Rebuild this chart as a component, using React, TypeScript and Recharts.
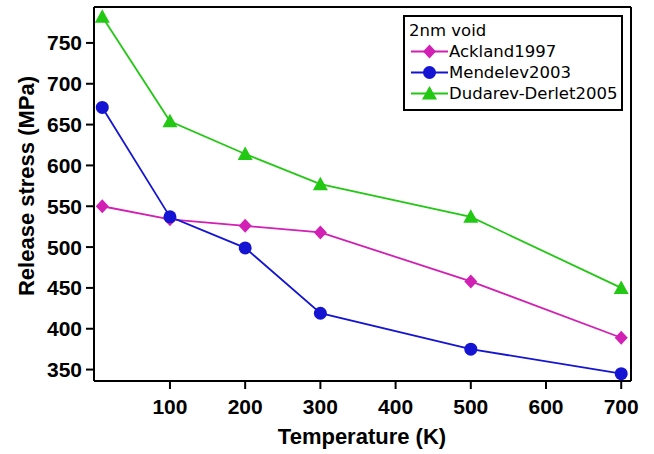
import React from 'react'
import { LineChart, Line, XAxis, YAxis, ReferenceLine } from 'recharts'

// Temperatures (K) and release stress (MPa) per potential
const temperatures = [10, 100, 200, 300, 500, 700]
const ackland1997 = [550, 534, 526, 518, 458, 389]
const mendelev2003 = [671, 537, 499, 419, 375, 345]
const dudarevDerlet2005 = [782, 654, 614, 577, 537, 450]

const xTicks = [100, 200, 300, 400, 500, 600, 700]
const yTicks = [350, 400, 450, 500, 550, 600, 650, 700, 750]

const legendTitle = '2nm void'
const seriesNames = ['Ackland1997', 'Mendelev2003', 'Dudarev-Derlet2005']

const MAGENTA = '#d21fb4'
const BLUE = '#1414d2'
const GREEN = '#22c814'
const FONT = '"Liberation Sans", Arial, sans-serif'

const data = temperatures.map((t, i) => ({
  t,
  ackland: ackland1997[i],
  mendelev: mendelev2003[i],
  dudarev: dudarevDerlet2005[i],
}))

const Diamond = ({ cx, cy, color }: any) => (
  <polygon
    points={`${cx},${cy - 7} ${cx + 6.5},${cy} ${cx},${cy + 7} ${cx - 6.5},${cy}`}
    fill={color}
  />
)

const Circle = ({ cx, cy, color }: any) => <circle cx={cx} cy={cy} r={6.5} fill={color} />

const Triangle = ({ cx, cy, color }: any) => (
  <polygon
    points={`${cx},${cy - 7.5} ${cx + 7.5},${cy + 6} ${cx - 7.5},${cy + 6}`}
    fill={color}
  />
)

const markers = [Diamond, Circle, Triangle]
const colors = [MAGENTA, BLUE, GREEN]

const tickStyle = { fontSize: 21, fontWeight: 'bold' as const, fill: '#000', fontFamily: FONT }

const Legend = () => (
  <div
    style={{
      position: 'absolute',
      left: 403,
      top: 15,
      width: 216,
      height: 89,
      border: '2px solid #000',
      background: '#fff',
      fontFamily: '"DejaVu Sans", sans-serif',
      fontSize: 16.5,
      color: '#000',
      paddingTop: 3,
    }}
  >
    <div style={{ height: 21, lineHeight: '21px', paddingLeft: 4 }}>{legendTitle}</div>
    {seriesNames.map((name, i) => {
      const M = markers[i]
      return (
        <div key={name} style={{ height: 21, display: 'flex', alignItems: 'center', paddingLeft: 6 }}>
          <svg width={38} height={21} style={{ display: 'block' }}>
            <line x1={0} y1={10.5} x2={37} y2={10.5} stroke={colors[i]} strokeWidth={1.8} />
            <M cx={18.5} cy={10.5} color={colors[i]} />
          </svg>
          <span style={{ lineHeight: '21px', marginLeft: 0 }}>{name}</span>
        </div>
      )
    })}
  </div>
)

export default function App() {
  return (
    <div style={{ position: 'absolute', left: 0, top: 0, width: 654, height: 454, background: '#fff' }}>
      <LineChart width={654} height={454} data={data} margin={{ top: 7, right: 23, left: 0, bottom: 0 }}>
        <XAxis
          dataKey="t"
          type="number"
          domain={[-1, 713]}
          ticks={xTicks}
          allowDataOverflow
          height={73}
          tickSize={8}
          tickMargin={10}
          tick={tickStyle}
          axisLine={{ stroke: '#000', strokeWidth: 2 }}
          tickLine={{ stroke: '#000', strokeWidth: 2 }}
          label={() => (
            <text x={362} y={444} textAnchor="middle" fontSize={22} fontWeight="bold" fontFamily={FONT} fill="#000">
              Temperature (K)
            </text>
          )}
        />
        <YAxis
          type="number"
          domain={[336, 794]}
          ticks={yTicks}
          allowDataOverflow
          width={94}
          tickSize={8}
          tickMargin={4}
          tick={tickStyle}
          axisLine={{ stroke: '#000', strokeWidth: 2 }}
          tickLine={{ stroke: '#000', strokeWidth: 2 }}
          label={() => (
            <text
              x={34}
              y={186}
              transform="rotate(-90 34 186)"
              textAnchor="middle"
              fontSize={22}
              fontWeight="bold"
              fontFamily={FONT}
              fill="#000"
            >
              Release stress (MPa)
            </text>
          )}
        />
        <ReferenceLine y={794} stroke="#000" strokeWidth={2} ifOverflow="extendDomain" />
        <ReferenceLine x={713} stroke="#000" strokeWidth={2} ifOverflow="extendDomain" />
        <Line
          dataKey="ackland"
          stroke={MAGENTA}
          strokeWidth={1.8}
          isAnimationActive={false}
          dot={(p: any) => <Diamond key={`a${p.index}`} cx={p.cx} cy={p.cy} color={MAGENTA} />}
        />
        <Line
          dataKey="mendelev"
          stroke={BLUE}
          strokeWidth={1.8}
          isAnimationActive={false}
          dot={(p: any) => <Circle key={`m${p.index}`} cx={p.cx} cy={p.cy} color={BLUE} />}
        />
        <Line
          dataKey="dudarev"
          stroke={GREEN}
          strokeWidth={1.8}
          isAnimationActive={false}
          dot={(p: any) => <Triangle key={`d${p.index}`} cx={p.cx} cy={p.cy} color={GREEN} />}
        />
      </LineChart>
      <Legend />
    </div>
  )
}
